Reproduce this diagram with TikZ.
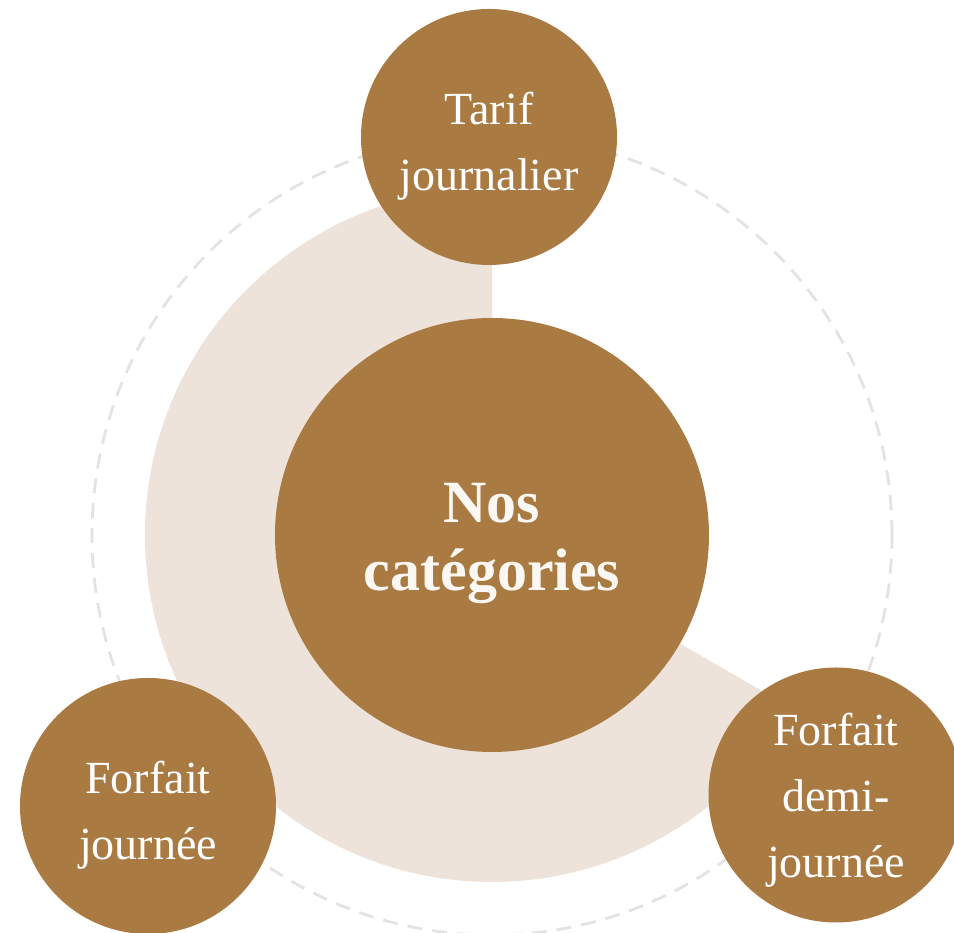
\documentclass[tikz,border=0pt]{standalone}
\usepackage{fontspec}
\setmainfont{Liberation Serif}
\definecolor{brownc}{HTML}{AA7A43}
\definecolor{beigec}{HTML}{EDE3DA}
\definecolor{dashc}{HTML}{E3E3E3}
\definecolor{textc}{HTML}{FBF7F2}
\begin{document}
\begin{tikzpicture}[x=1pt,y=1pt,
  bubble/.style={circle,fill=brownc,inner sep=0pt},
  lab/.style={inner sep=0pt,align=center,text=white,
    font=\fontsize{46}{66}\selectfont},
  hublab/.style={inner sep=0pt,align=center,text=textc,
    font=\fontsize{60}{68}\selectfont\bfseries}]
\useasboundingbox (0,0) rectangle (954,933);
\coordinate (C) at (492,398);
% dashed orbit
\draw[dashc,line width=2.8pt,dash pattern=on 15pt off 10pt] (C) circle[radius=400];
% beige sector
\fill[beigec] (C) -- ++(90:347) arc[start angle=90,end angle=330,radius=347] -- cycle;
% hub
\node[bubble,minimum size=434pt] (hub) at (C) {};
\node[hublab] (hubT) at ([yshift=-8pt]hub.center) {Nos\\catégories};
% satellites
\node[bubble,minimum size=256pt] (top) at (489,796) {};
\node[lab] (topT) at ([yshift=-9pt]top.center) {Tarif\\journalier};
\node[bubble,minimum size=256pt] (bl) at (148,127) {};
\node[lab] (blT) at ([yshift=-9pt]bl.center) {Forfait\\journée};
\node[bubble,minimum size=255pt] (br) at (836,138) {};
\node[lab] (brT) at ([yshift=-5pt]br.center) {Forfait\\demi-\\journée};
\end{tikzpicture}
\end{document}
